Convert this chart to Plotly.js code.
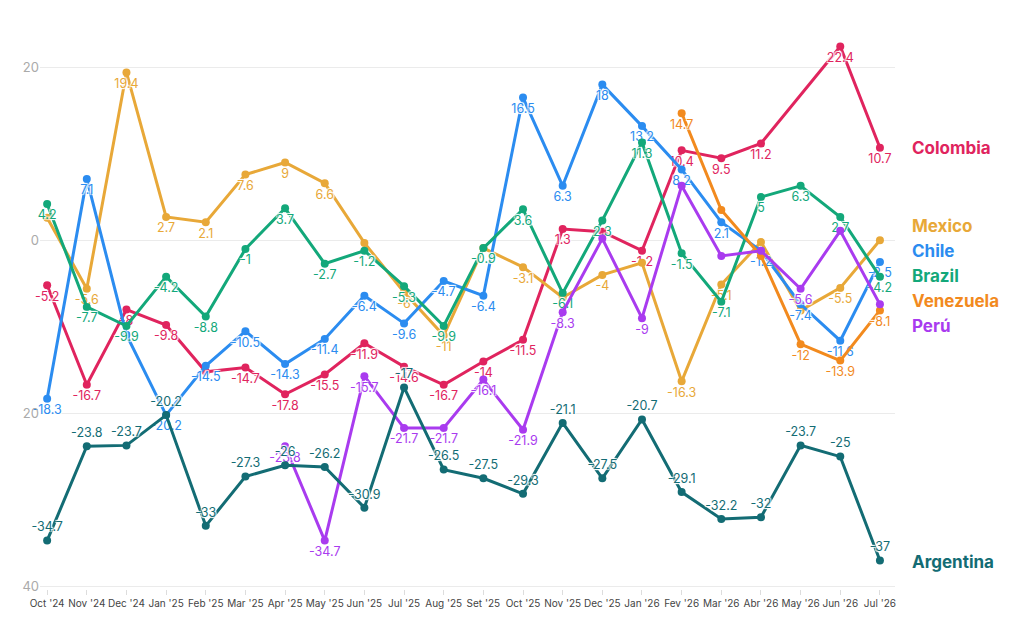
<!DOCTYPE html>
<html>
<head>
<meta charset="utf-8">
<script src="https://cdn.plot.ly/plotly-3.0.1.min.js"></script>
<style>html,body{margin:0;padding:0;background:#fff}</style>
</head>
<body>
<div id="plot" style="width:1011px;height:617px"></div>
<script>
const months = ["Oct '24","Nov '24","Dec '24","Jan '25","Feb '25","Mar '25","Apr '25","May '25","Jun '25","Jul '25","Aug '25","Set '25","Oct '25","Nov '25","Dec '25","Jan '26","Fev '26","Mar '26","Abr '26","May '26","Jun '26","Jul '26"];

const colombia  = [-5.2,-16.7,-8,-9.8,-15.2,-14.7,-17.8,-15.5,-11.9,-14.6,-16.7,-14,-11.5,1.3,1.0,-1.2,10.4,9.5,11.2,null,22.4,10.7];
const chile     = [-18.3,7.1,-10.9,-20.2,-14.5,-10.5,-14.3,-11.4,-6.4,-9.6,-4.7,-6.4,16.5,6.3,18,13.2,8.2,2.1,-1.2,-7.4,-11.6,-2.5];
const mexico    = [2.6,-5.6,19.4,2.7,2.1,7.6,9,6.6,-0.3,-6,-11,-0.9,-3.1,-6.6,-4,-2.6,-16.3,-5.1,-0.2,-8.1,-5.5,0];
const brazil    = [4.2,-7.7,-9.9,-4.2,-8.8,-1,3.7,-2.7,-1.2,-5.3,-9.9,-0.9,3.6,-6.1,2.3,11.3,-1.5,-7.1,5,6.3,2.7,-4.2];
const venezuela = [null,null,null,null,null,null,null,null,null,null,null,null,null,null,null,null,14.7,3.5,-1.8,-12,-13.9,-8.1];
const peru      = [null,null,null,null,null,null,-23.8,-34.7,-15.7,-21.7,-21.7,-16.1,-21.9,-8.3,0.2,-9,6.3,-1.8,-1.2,-5.6,1.1,-7.4];
const argentina = [-34.7,-23.8,-23.7,-20.2,-33,-27.3,-26,-26.2,-30.9,-17,-26.5,-27.5,-29.3,-21.1,-27.5,-20.7,-29.1,-32.2,-32,-23.7,-25,-37];

// points whose label the original hides (overlaps)
const hiddenLabels = {
  Colombia: [4, 14],
  Chile: [2],
  Mexico: [0, 8, 11, 13, 15, 18, 19, 21],
  Venezuela: [17, 18],
  'Perú': [14, 16, 17, 18, 20, 21]
};

const seriesNames = ['Colombia','Mexico','Chile','Brazil','Venezuela','Perú','Argentina'];
const seriesData = [colombia, mexico, chile, brazil, venezuela, peru, argentina];
const colors = ['#E0245E','#E8A838','#2B8CF0','#13A87A','#F28A1E','#A93BEF','#136C74'];
const labelY = [10.7, 1.7, -1.2, -4.1, -7, -9.9, -37.2];
const textPos = ['bottom center','bottom center','bottom center','bottom center','bottom center','bottom center','top center'];

const fontFam = 'Inter, Roboto, sans-serif';

const traces = seriesData.map((vals, i) => {
  const hide = hiddenLabels[seriesNames[i]] || [];
  return {
    x: months,
    y: vals,
    type: 'scatter',
    mode: 'lines+markers+text',
    connectgaps: true,
    name: seriesNames[i],
    line: { color: colors[i], width: 3 },
    marker: { color: colors[i], size: 8 },
    text: vals.map((v, j) => (v == null || hide.includes(j)) ? '' : String(v)),
    textposition: textPos[i],
    textfont: { color: colors[i], size: 12.5, family: fontFam, shadow: '1px 1px 1px #fff, -1px -1px 1px #fff, 1px -1px 1px #fff, -1px 1px 1px #fff' },
    cliponaxis: false,
    hoverinfo: 'x+y+name'
  };
});

const annotations = seriesNames.map((n, i) => ({
  text: '<b>' + n + '</b>',
  xref: 'paper', yref: 'y',
  x: 1.017, y: labelY[i],
  xanchor: 'left', yanchor: 'middle',
  showarrow: false,
  font: { color: colors[i], size: 17, family: fontFam }
}));

const layout = {
  width: 1011, height: 617,
  margin: { l: 40, r: 116, t: 37, b: 28 },
  paper_bgcolor: '#fff', plot_bgcolor: '#fff',
  showlegend: false,
  xaxis: {
    type: 'category',
    range: [-0.18, 21.38],
    showgrid: false,
    ticks: 'outside', ticklen: 5, tickcolor: '#ddd',
    showline: false,
    zeroline: false,
    tickfont: { size: 10, color: '#444', family: fontFam }
  },
  yaxis: {
    range: [-40.3, 23.5],
    tickvals: [20, 0, -20, -40],
    ticktext: ['20', '0', '20', '40'],
    showgrid: true, gridcolor: '#ebebeb', gridwidth: 1,
    zeroline: false,
    tickfont: { size: 13, color: '#aaa', family: fontFam }
  },
  annotations: annotations
};

Plotly.newPlot('plot', traces, layout, { displayModeBar: false });
</script>
</body>
</html>
